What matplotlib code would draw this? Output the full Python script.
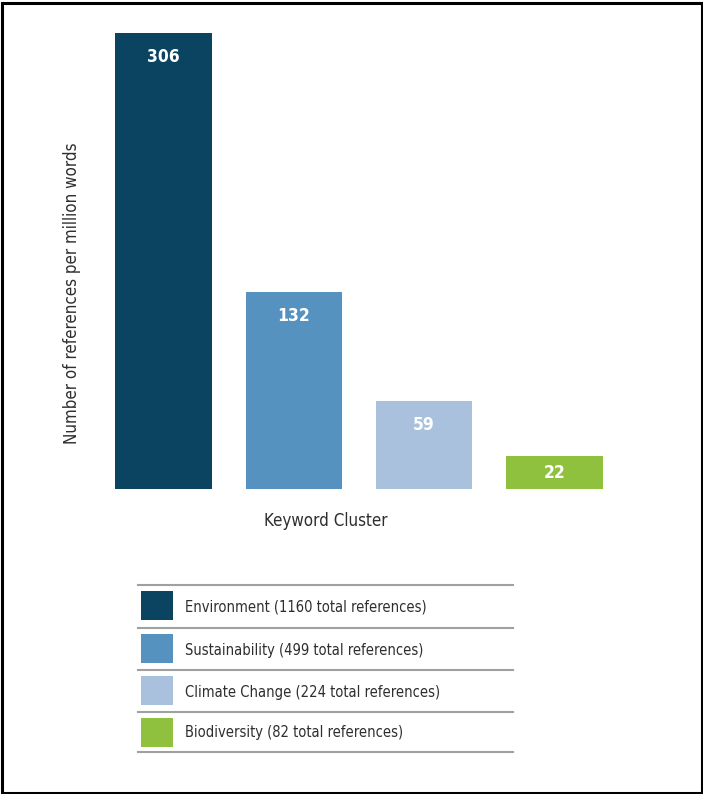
import matplotlib.pyplot as plt
from matplotlib.patches import Rectangle
from matplotlib.lines import Line2D

# data
clusters = ["Environment", "Sustainability", "Climate Change", "Biodiversity"]
per_million = [306, 132, 59, 22]
total_refs = [1160, 499, 224, 82]
colors = ["#0b4461", "#5592bf", "#a9c1dc", "#8fc13e"]

# condensed face is the closest thing to the original narrow font
plt.rcParams["font.family"] = ["DejaVu Sans"]
plt.rcParams["font.stretch"] = "condensed"

W, H = 703, 794
fig = plt.figure(figsize=(W / 100, H / 100), dpi=100)

# main bar axes (placed in pixel terms)
left, right, top, bottom = 98.3, 619.7, 33, 489
ax = fig.add_axes([left / W, (H - bottom) / H, (right - left) / W, (bottom - top) / H])
x = list(range(len(clusters)))
bars = ax.bar(x, per_million, width=0.737, color=colors)
ax.set_xlim(-0.5, 3.5)
ax.set_ylim(0, 306)
ax.axis("off")

# value labels inside the bars
for b, v in zip(bars, per_million):
    h_px = v / 306 * (bottom - top)
    off = min(24, h_px / 2)
    ax.annotate(str(v), (b.get_x() + b.get_width() / 2, v), xytext=(0, -off),
                textcoords="offset pixels", ha="center", va="center",
                color="white", fontsize=12.5, fontweight="bold")

# overlay axes in pixel coordinates for labels, legend, frame
ov = fig.add_axes([0, 0, 1, 1], zorder=-1)
ov.set_xlim(0, W)
ov.set_ylim(H, 0)
ov.axis("off")

ov.text(72, 293, "Number of references per million words", rotation=90,
        ha="center", va="center", fontsize=12.2, color="#2e2e2e")
ov.text(326, 521, "Keyword Cluster", ha="center", va="center",
        fontsize=12.2, color="#2e2e2e")

# legend table
line_y = [585, 628, 670, 712, 752]
for y in line_y:
    ov.add_line(Line2D([138, 513], [y, y], color="#a0a0a0", lw=1.5))
for i, (name, n, c) in enumerate(zip(clusters, total_refs, colors)):
    y0, y1 = line_y[i], line_y[i + 1]
    ov.add_patch(Rectangle((141, y0 + 6), 32, 29, facecolor=c, edgecolor="none"))
    ov.text(185, (y0 + y1) / 2 + 1, f"{name} ({n} total references)",
            ha="left", va="center", fontsize=10.5, color="#2e2e2e")

# outer frame
ov.add_patch(Rectangle((1.5, 2.5), W - 3, H - 4, facecolor="none",
                       edgecolor="black", lw=2.2))

fig.savefig("out.png", dpi=100)
